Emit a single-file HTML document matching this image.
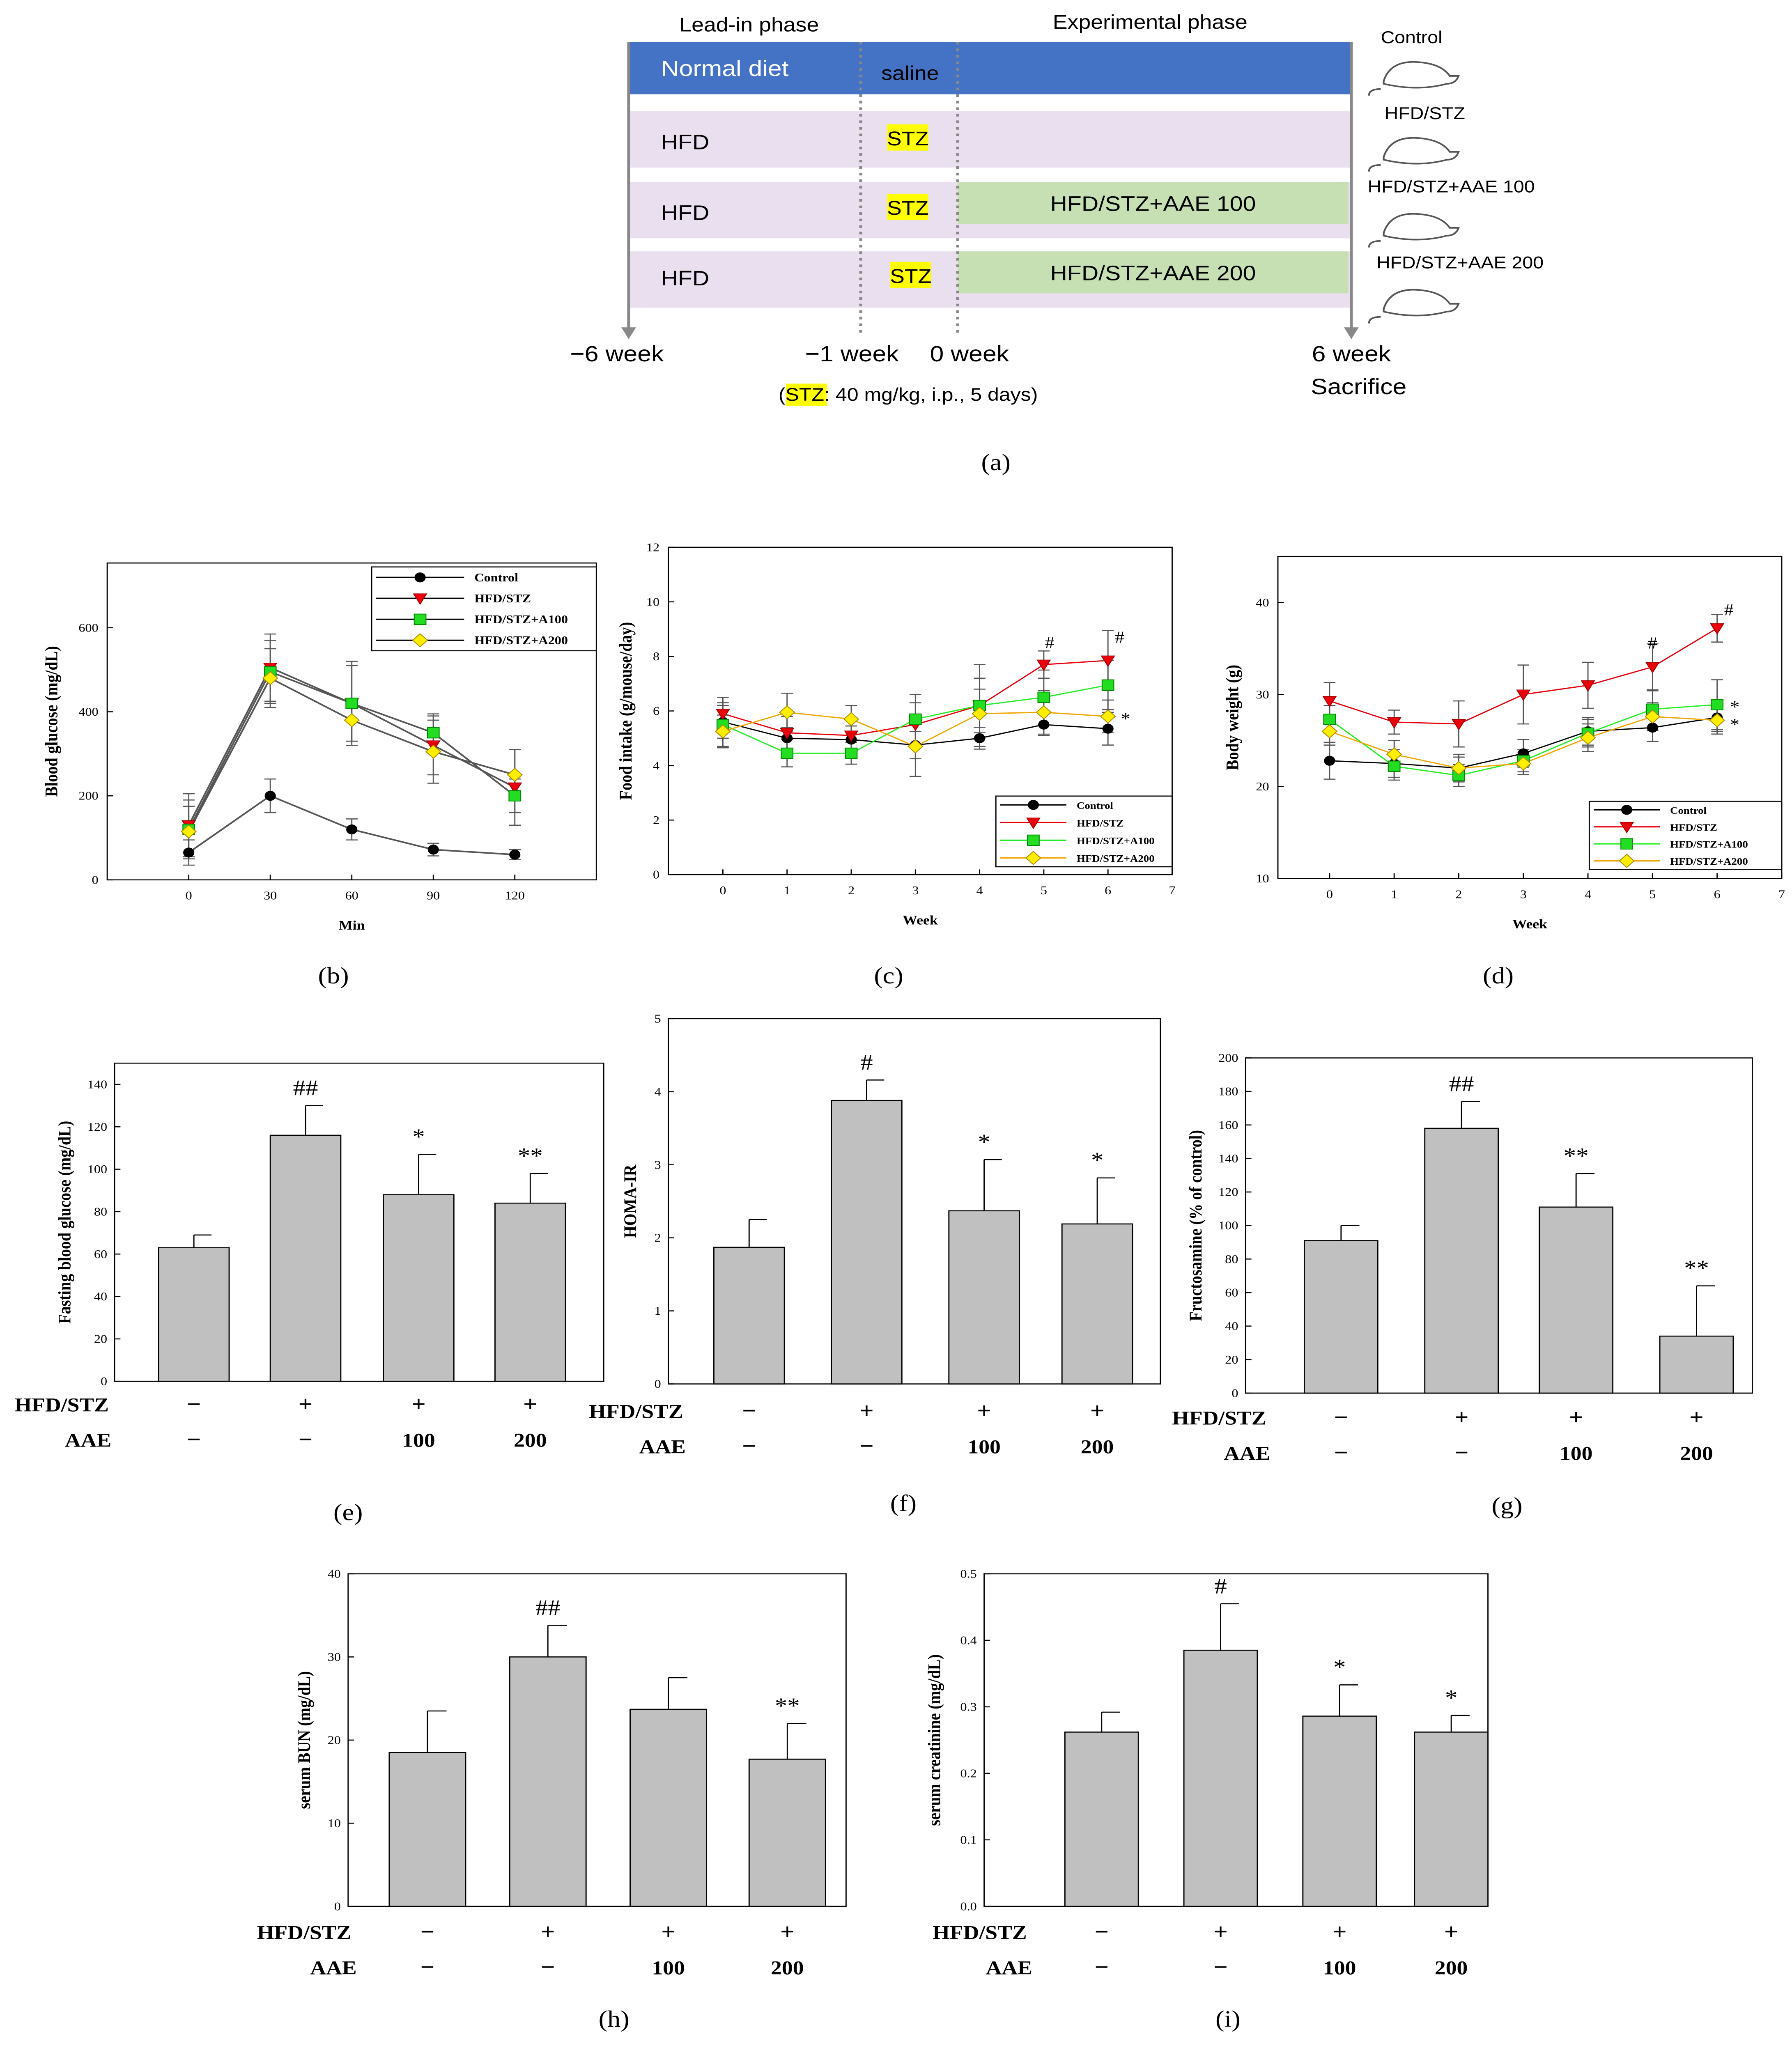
<!DOCTYPE html>
<html><head><meta charset="utf-8"><style>
html,body{margin:0;padding:0;background:#fff;width:100%;height:100%;overflow:hidden}
#fig{display:block;position:fixed;left:0;top:0;width:100vw;height:100vh}
.sans text,text.sans{font-family:"Liberation Sans",sans-serif}
.serif text,text.serif{font-family:"Liberation Serif",serif}
</style></head><body>
<svg id="fig" xmlns="http://www.w3.org/2000/svg" viewBox="0 0 1220 1568" preserveAspectRatio="none">
<g class="sans">
<rect x="428" y="32" width="492" height="40" fill="#4472c4"/>
<rect x="428" y="85" width="492" height="43" fill="#e9dfee"/>
<rect x="428" y="139" width="492" height="43" fill="#e9dfee"/>
<rect x="428" y="192" width="492" height="43" fill="#e9dfee"/>
<rect x="652" y="139" width="266" height="32" fill="#c6e0b4"/>
<rect x="652" y="192" width="266" height="32" fill="#c6e0b4"/>
<text x="510" y="24" font-size="15" text-anchor="middle">Lead-in phase</text>
<text x="783" y="22" font-size="15" text-anchor="middle">Experimental phase</text>
<text x="450" y="58" font-size="17" fill="#fff">Normal diet</text>
<text x="600" y="61" font-size="15">saline</text>
<text x="450" y="114" font-size="16">HFD</text>
<text x="450" y="168" font-size="16">HFD</text>
<text x="450" y="218" font-size="16">HFD</text>
<rect x="604" y="95" width="28" height="20" fill="#ffff00"/><text x="618" y="111" font-size="15" text-anchor="middle">STZ</text>
<rect x="604" y="148" width="28" height="20" fill="#ffff00"/><text x="618" y="164" font-size="15" text-anchor="middle">STZ</text>
<rect x="606" y="200" width="28" height="20" fill="#ffff00"/><text x="620" y="216" font-size="15" text-anchor="middle">STZ</text>
<text x="785" y="161" font-size="16" text-anchor="middle">HFD/STZ+AAE 100</text>
<text x="785" y="214" font-size="16" text-anchor="middle">HFD/STZ+AAE 200</text>
<line x1="428" y1="32" x2="428" y2="252" stroke="#888" stroke-width="2"/><path d="M423 250 L433 250 L428 259Z" fill="#888"/>
<line x1="920" y1="32" x2="920" y2="252" stroke="#888" stroke-width="2"/><path d="M915 250 L925 250 L920 259Z" fill="#888"/>
<line x1="586" y1="32" x2="586" y2="255" stroke="#888" stroke-width="2" stroke-dasharray="2,3"/>
<line x1="652" y1="32" x2="652" y2="255" stroke="#888" stroke-width="2" stroke-dasharray="2,3"/>
<text x="420" y="276" font-size="17" text-anchor="middle">−6 week</text>
<text x="580" y="276" font-size="17" text-anchor="middle">−1 week</text>
<text x="660" y="276" font-size="17" text-anchor="middle">0 week</text>
<text x="920" y="276" font-size="17" text-anchor="middle">6 week</text>
<text x="925" y="301" font-size="17" text-anchor="middle">Sacrifice</text>
<rect x="535" y="293" width="28" height="17" fill="#ffff00"/>
<text x="530" y="306" font-size="14">(STZ: 40 mg/kg, i.p., 5 days)</text>
<text x="961" y="33" font-size="13" text-anchor="middle">Control</text>
<text x="970" y="91" font-size="13" text-anchor="middle">HFD/STZ</text>
<text x="988" y="147" font-size="13" text-anchor="middle">HFD/STZ+AAE 100</text>
<text x="994" y="205" font-size="13" text-anchor="middle">HFD/STZ+AAE 200</text>
<g fill="none" stroke="#555" stroke-width="1.2">
<path d="M942 62 q5-18 28-14 q12 2 17 10 l6 0 q-2 6-8 6 q-20 6-43 0 z M940 68 q-8 0-8 5"/>
<path d="M942 120 q5-18 28-14 q12 2 17 10 l6 0 q-2 6-8 6 q-20 6-43 0 z M940 126 q-8 0-8 5"/>
<path d="M942 178 q5-18 28-14 q12 2 17 10 l6 0 q-2 6-8 6 q-20 6-43 0 z M940 184 q-8 0-8 5"/>
<path d="M942 236 q5-18 28-14 q12 2 17 10 l6 0 q-2 6-8 6 q-20 6-43 0 z M940 242 q-8 0-8 5"/>
</g>
<text x="678" y="359" font-size="18" text-anchor="middle" style="font-family:'Liberation Serif',serif">(a)</text>
</g>
<g id="charts" class="serif"></g>
</svg>
<script>
// ---- data ----
const timeMin=[0,30,60,90,120];
const bgControl=[65,200,120,72,60], bgControlErr=[30,40,25,15,12];
const bgHfd=[130,505,420,320,220], bgHfdErr=[75,80,100,70,90];
const bgA100=[120,495,420,350,200], bgA100Err=[70,75,90,45,40];
const bgA200=[115,480,380,305,250], bgA200Err=[60,70,50,75,60];
const weeks=[0,1,2,3,4,5,6];
const fiControl=[5.6,5.0,4.95,4.75,5.0,5.5,5.35], fiControlErr=[0.6,0.4,0.5,0.5,0.4,0.4,0.6];
const fiHfd=[5.9,5.2,5.1,5.5,6.2,7.7,7.85], fiHfdErr=[0.6,0.6,0.6,0.8,1.5,0.5,1.1];
const fiA100=[5.5,4.45,4.45,5.7,6.2,6.5,6.95], fiA100Err=[0.8,0.5,0.4,0.9,1.0,1.0,0.9];
const fiA200=[5.25,5.95,5.7,4.7,5.9,5.95,5.8], fiA200Err=[0.6,0.7,0.5,1.1,0.9,0.8,0.6];
const bwControl=[22.8,22.5,22,23.6,26,26.4,27.5], bwControlErr=[2,1.5,1.5,1.5,1.5,1.5,1.5];
const bwHfd=[29.3,27,26.8,30,31,33,37.2], bwHfdErr=[2,1.3,2.5,3.2,2.5,2.5,1.5];
const bwA100=[27.3,22.2,21.2,22.8,25.8,28.4,28.9], bwA100Err=[1.5,1.5,1.2,1.2,1.5,2,2.7];
const bwA200=[26,23.5,22,22.5,25.3,27.6,27.2], bwA200Err=[1.5,1.5,1.2,1.2,1.5,1.5,1.5];
const fbg=[63,116,88,84], fbgErr=[6,14,19,14];
const homa=[1.87,3.88,2.37,2.19], homaErr=[0.38,0.28,0.7,0.63];
const fruc=[91,158,111,34], frucErr=[9,16,20,30];
const bun=[18.5,30,23.7,17.7], bunErr=[5,3.8,3.8,4.3];
const crea=[0.262,0.385,0.286,0.262], creaErr=[0.03,0.07,0.047,0.025];
const hfdSigns=['−','+','+','+'], aaeLabels=['−','−','100','200'];
const seriesNames=['Control','HFD/STZ','HFD/STZ+A100','HFD/STZ+A200'];

const NS='http://www.w3.org/2000/svg';
const root=document.getElementById('charts');
function mk(tag,attrs,parent,txt){const e=document.createElementNS(NS,tag);for(const k in attrs)e.setAttribute(k,attrs[k]);if(txt!==undefined)e.textContent=txt;(parent||root).appendChild(e);return e;}
function scale(d0,d1,r0,r1){return v=>r0+(v-d0)*(r1-r0)/(d1-d0);}

function marker(g,kind,x,y){
  let e;
  if(kind===0){e=mk('circle',{cx:x,cy:y,r:3.8,fill:'#000'},g);}
  else if(kind===1){e=mk('path',{d:`M${x-4.5} ${y-3.5}L${x+4.5} ${y-3.5}L${x} ${y+4.5}Z`,fill:'#e8000b',stroke:'#900','stroke-width':0.5},g);}
  else if(kind===2){e=mk('rect',{x:x-4,y:y-4,width:8,height:8,fill:'#22dd22',stroke:'#080','stroke-width':0.6},g);}
  else {e=mk('path',{d:`M${x} ${y-5}L${x+5} ${y}L${x} ${y+5}L${x-5} ${y}Z`,fill:'#ffee00',stroke:'#a80','stroke-width':0.6},g);}
  
  
}
const lineCols=['#000','#e8000b','#22ee22','#f0a500'];

function lineChart(o){
  const g=mk('g',{});
  
  
  const X=scale(o.xd[0],o.xd[1],o.box[0],o.box[2]), Y=scale(o.yd[0],o.yd[1],o.box[3],o.box[1]);
  const frame=mk('rect',{x:o.box[0],y:o.box[1],width:o.box[2]-o.box[0],height:o.box[3]-o.box[1],fill:'none',stroke:'#000','stroke-width':0.8},g);
  
  
  o.yt.forEach(t=>{mk('line',{x1:o.box[0],x2:o.box[0]+4,y1:Y(t),y2:Y(t),stroke:'#000','stroke-width':0.8},g);
    const lt=mk('text',{x:o.box[0]-6,y:Y(t)+3,'font-size':9,'text-anchor':'end',class:'sans'},g,String(t));
    
    });
  o.xt.forEach(t=>{mk('line',{x1:X(t),x2:X(t),y1:o.box[3],y2:o.box[3]-4,stroke:'#000','stroke-width':0.8},g);
    const lt=mk('text',{x:X(t),y:o.box[3]+15,'font-size':9,'text-anchor':'middle',class:'sans'},g,String(t));
    
    });
  const xl=mk('text',{x:(o.box[0]+o.box[2])/2,y:o.box[3]+38,'font-size':10,'font-weight':'bold','text-anchor':'middle'},g,o.xlabel);
  
  
  const cy=(o.box[1]+o.box[3])/2, cx=o.box[0]-o.ylOff;
  const yl=mk('text',{x:cx,y:cy,'font-size':12,'font-weight':'bold','text-anchor':'middle',transform:`rotate(-90 ${cx} ${cy})`},g,o.ylabel);
  
  
  o.series.forEach((s,si)=>{
    const pts=o.x.map((xv,i)=>X(xv)+','+Y(s.v[i])).join(' ');
    const pl=mk('polyline',{points:pts,fill:'none',stroke:o.lineColors?lineCols[si]:'#555','stroke-width':o.lineColors?0.9:1.2},g);
    
    
    o.x.forEach((xv,i)=>{const x=X(xv),y1=Y(s.v[i]-s.e[i]),y2=Y(s.v[i]+s.e[i]);
      mk('path',{d:`M${x} ${y1}L${x} ${y2}M${x-4} ${y1}L${x+4} ${y1}M${x-4} ${y2}L${x+4} ${y2}`,stroke:'#555','stroke-width':0.8,fill:'none'},g);});
  });
  o.series.forEach((s,si)=>o.x.forEach((xv,i)=>marker(g,si,X(xv),Y(s.v[i]))));
  const L=o.leg, lh=(L[3]-L[1])/4;
  const lg=mk('g',{},g);
  
  
  mk('rect',{x:L[0],y:L[1],width:L[2]-L[0],height:L[3]-L[1],fill:'#fff',stroke:'#000','stroke-width':0.8},lg);
  seriesNames.forEach((n,i)=>{const yy=L[1]+lh*(i+0.5);const lw=o.legLine;
    mk('line',{x1:L[0]+3,x2:L[0]+3+lw,y1:yy,y2:yy,stroke:o.lineColors?lineCols[i]:'#000','stroke-width':1},lg);
    marker(lg,i,L[0]+3+lw/2,yy);
    const t=mk('text',{x:L[0]+lw+10,y:yy+3,'font-size':o.legFont,'font-weight':'bold'},lg,n);
    
    });
  (o.notes||[]).forEach(n=>{const t=mk('text',{x:X(n[0])+(n[3]||0),y:Y(n[1])+(n[4]||0),'font-size':13,'text-anchor':'middle',class:'sans'},g,n[2]);
    
    });
  const pl=mk('text',{x:o.plab[0],y:o.plab[1],'font-size':18,'text-anchor':'middle'},g,o.plab[2]);
  
  
}

lineChart({name:'chart-blood-glucose',box:[73,430,406,672],xd:[-30,150],yd:[0,754],xt:timeMin,yt:[0,200,400,600],x:timeMin,
  series:[{v:bgControl,e:bgControlErr},{v:bgHfd,e:bgHfdErr},{v:bgA100,e:bgA100Err},{v:bgA200,e:bgA200Err}],
  xlabel:'Min',ylabel:'Blood glucose (mg/dL)',ylOff:34,leg:[253,433,406,497],legLine:60,legFont:9,lineColors:false,plab:[227,751,'(b)']});
lineChart({name:'chart-food-intake',box:[455,418,798,668],xd:[-0.85,7],yd:[0,12],xt:[0,1,2,3,4,5,6,7],yt:[0,2,4,6,8,10,12],x:weeks,
  series:[{v:fiControl,e:fiControlErr},{v:fiHfd,e:fiHfdErr},{v:fiA100,e:fiA100Err},{v:fiA200,e:fiA200Err}],
  xlabel:'Week',ylabel:'Food intake (g/mouse/day)',ylOff:25,leg:[678,608,798,662],legLine:45,legFont:7.5,lineColors:true,
  notes:[[5,8.3,'#',4,0],[6,8.5,'#',8,0],[6,5.8,'*',12,6]],plab:[605,751,'(c)']});
lineChart({name:'chart-body-weight',box:[870,425,1213,671],xd:[-0.8,7],yd:[10,45],xt:[0,1,2,3,4,5,6,7],yt:[10,20,30,40],x:weeks,
  series:[{v:bwControl,e:bwControlErr},{v:bwHfd,e:bwHfdErr},{v:bwA100,e:bwA100Err},{v:bwA200,e:bwA200Err}],
  xlabel:'Week',ylabel:'Body weight (g)',ylOff:27,leg:[1082,612,1213,664],legLine:45,legFont:7.5,lineColors:true,
  notes:[[5,35,'#',0,0],[6,38.6,'#',8,0],[6,28.9,'*',12,6],[6,27,'*',12,6]],plab:[1020,751,'(d)']});

function barChart(o){
  const g=mk('g',{});
  
  
  const Y=scale(0,o.ymax,o.box[3],o.box[1]);
  const frame=mk('rect',{x:o.box[0],y:o.box[1],width:o.box[2]-o.box[0],height:o.box[3]-o.box[1],fill:'none',stroke:'#000','stroke-width':0.8},g);
  
  
  o.yt.forEach(t=>{mk('line',{x1:o.box[0],x2:o.box[0]+4,y1:Y(t),y2:Y(t),stroke:'#000','stroke-width':0.8},g);
    const lt=mk('text',{x:o.box[0]-5,y:Y(t)+3,'font-size':9,'text-anchor':'end',class:'sans'},g,o.fmt?t.toFixed(1):String(t));
    
    });
  const cy=(o.box[1]+o.box[3])/2, cx=o.box[0]-o.ylOff;
  const yl=mk('text',{x:cx,y:cy,'font-size':12,'font-weight':'bold','text-anchor':'middle',transform:`rotate(-90 ${cx} ${cy})`},g,o.ylabel);
  
  
  o.vals.forEach((v,i)=>{const c=o.cx[i],w=o.w;
    const b=mk('rect',{x:c-w/2,y:Y(v),width:w,height:Y(0)-Y(v),fill:'#c0c0c0',stroke:'#000','stroke-width':0.8},g);
    
    
    const ye=Y(v+o.err[i]);
    mk('path',{d:`M${c} ${Y(v)}L${c} ${ye}M${c} ${ye}L${c+w/4} ${ye}`,stroke:'#000','stroke-width':0.8,fill:'none'},g);
    if(o.notes[i]){const t=mk('text',{x:c,y:ye-8,'font-size':17,'text-anchor':'middle',class:'sans'},g,o.notes[i]);
      
      }
    const s=mk('text',{x:c,y:o.row1+6,'font-size':17,'font-weight':'bold','text-anchor':'middle'},g,hfdSigns[i]);
    
    
    const a=mk('text',{x:c,y:o.row2+6,'font-size':aaeLabels[i].length>1?15:17,'font-weight':'bold','text-anchor':'middle'},g,aaeLabels[i]);
    
    
  });
  const r1=mk('text',{x:o.lab1,y:o.row1+6,'font-size':15,'font-weight':'bold','text-anchor':'middle'},g,'HFD/STZ');
  
  
  const r2=mk('text',{x:o.lab2,y:o.row2+6,'font-size':15,'font-weight':'bold','text-anchor':'middle'},g,'AAE');
  
  
  const pl=mk('text',{x:o.plab[0],y:o.plab[1],'font-size':18,'text-anchor':'middle'},g,o.plab[2]);
  
  
}
barChart({name:'chart-fasting-glucose',box:[78,812,411,1055],ymax:150,yt:[0,20,40,60,80,100,120,140],vals:fbg,err:fbgErr,cx:[132,208,285,361],w:48,
  ylabel:'Fasting blood glucose (mg/dL)',ylOff:30,notes:['','##','*','**'],row1:1072,row2:1099,lab1:42,lab2:60,plab:[237,1161,'(e)']});
barChart({name:'chart-homa-ir',box:[455,778,790,1057],ymax:5,yt:[0,1,2,3,4,5],vals:homa,err:homaErr,cx:[510,590,670,747],w:48,
  ylabel:'HOMA-IR',ylOff:22,notes:['','#','*','*'],row1:1077,row2:1104,lab1:433,lab2:451,plab:[615,1154,'(f)']});
barChart({name:'chart-fructosamine',box:[848,808,1193,1064],ymax:200,yt:[0,20,40,60,80,100,120,140,160,180,200],vals:fruc,err:frucErr,cx:[913,995,1073,1155],w:50,
  ylabel:'Fructosamine (% of control)',ylOff:30,notes:['','##','**','**'],row1:1082,row2:1109,lab1:830,lab2:849,plab:[1026,1156,'(g)']});
barChart({name:'chart-serum-bun',box:[237,1202,576,1456],ymax:40,yt:[0,10,20,30,40],vals:bun,err:bunErr,cx:[291,373,455,536],w:52,
  ylabel:'serum BUN (mg/dL)',ylOff:26,notes:['','##','','**'],row1:1475,row2:1502,lab1:207,lab2:227,plab:[418,1548,'(h)']});
barChart({name:'chart-serum-creatinine',box:[670,1202,1013,1456],ymax:0.5,yt:[0,0.1,0.2,0.3,0.4,0.5],vals:crea,err:creaErr,cx:[750,831,912,988],w:50,fmt:true,
  ylabel:'serum creatinine (mg/dL)',ylOff:30,notes:['','#','*','*'],row1:1475,row2:1502,lab1:667,lab2:687,plab:[836,1548,'(i)']});
</script>
</body></html>
